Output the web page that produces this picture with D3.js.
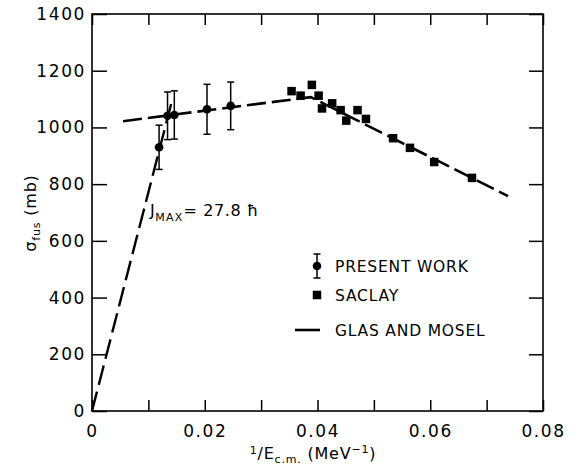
<!DOCTYPE html>
<html>
<head>
<meta charset="utf-8">
<script src="https://cdn.jsdelivr.net/npm/d3@7"></script>
<style>
  body { margin: 0; background: #fff; }
  svg text { font-family: "DejaVu Sans", sans-serif; }
</style>
</head>
<body>
<svg id="chart" width="580" height="470"></svg>
<script>
// Present work (circles with error bars)
const presentX = [0.0119, 0.0134, 0.0146, 0.0204, 0.0246];
const presentY = [930, 1041, 1044, 1064, 1076];
const presentErr = [78, 84, 85, 88, 84];

// Saclay (squares)
const saclayX = [0.0354, 0.0370, 0.0390, 0.0402, 0.0408, 0.0426, 0.0441, 0.0451, 0.0471, 0.0486, 0.0534, 0.0564, 0.0607, 0.0674];
const saclayY = [1128, 1112, 1150, 1112, 1067, 1085, 1061, 1024, 1061, 1030, 962, 928, 878, 822];

// Glas and Mosel curve
const glasX = [0.0055, 0.0388, 0.0738];
const glasY = [1022, 1107, 758];

// J_MAX = 27.8 line through origin
const jmaxX = [0, 0.0142];
const jmaxY = [0, 1095];

// Axis ticks
const xTicks = [0, 0.01, 0.02, 0.03, 0.04, 0.05, 0.06, 0.07, 0.08];
const xLabels = ["0", "", "0.02", "", "0.04", "", "0.06", "", "0.08"];
const yTicks = [0, 200, 400, 600, 800, 1000, 1200, 1400];

const legendLabels = ["PRESENT WORK", "SACLAY", "GLAS AND MOSEL"];

const svg = d3.select("#chart");
const margin = {top: 14, right: 37, bottom: 59, left: 92};
const width = 580 - margin.left - margin.right;
const height = 470 - margin.top - margin.bottom;

const x = d3.scaleLinear().domain([0, 0.08]).range([0, width]);
const y = d3.scaleLinear().domain([0, 1400]).range([height, 0]);

const g = svg.append("g").attr("transform", `translate(${margin.left},${margin.top})`);

// Frame
g.append("rect")
    .attr("width", width).attr("height", height)
    .attr("fill", "none").attr("stroke", "#000").attr("stroke-width", 1.6);

function styleAxis(sel) {
    sel.attr("font-family", null).attr("font-size", null);
    sel.select(".domain").remove();
    sel.selectAll("line").attr("stroke", "#000").attr("stroke-width", 1.5);
    sel.selectAll("text")
        .attr("fill", "#000")
        .style("font-size", "17px")
        .style("letter-spacing", "1.6px");
}

g.append("g")
    .attr("transform", `translate(0,${height})`)
    .call(d3.axisBottom(x).tickValues(xTicks).tickSizeInner(-11).tickSizeOuter(0).tickPadding(14)
        .tickFormat((d, i) => xLabels[i]))
    .call(styleAxis);

g.append("g")
    .call(d3.axisTop(x).tickValues(xTicks).tickSizeInner(-11).tickSizeOuter(0).tickFormat(""))
    .call(styleAxis);

g.append("g")
    .call(d3.axisLeft(y).tickValues(yTicks).tickSizeInner(-15).tickSizeOuter(0).tickPadding(6)
        .tickFormat(d3.format("d")))
    .call(styleAxis);

g.append("g")
    .attr("transform", `translate(${width},0)`)
    .call(d3.axisRight(y).tickValues(yTicks).tickSizeInner(-14).tickSizeOuter(0).tickFormat(""))
    .call(styleAxis);

// Lines
const line = d3.line().x(d => x(d[0])).y(d => y(d[1]));

g.append("path")
    .datum(glasX.map((v, i) => [v, glasY[i]]))
    .attr("d", line)
    .attr("fill", "none").attr("stroke", "#000").attr("stroke-width", 2.6)
    .attr("stroke-dasharray", "19,6");

g.append("path")
    .datum(jmaxX.map((v, i) => [v, jmaxY[i]]))
    .attr("d", line)
    .attr("fill", "none").attr("stroke", "#000").attr("stroke-width", 2.4)
    .attr("stroke-dasharray", "20,7");

// Saclay squares
const sq = 8.5;
g.selectAll(".saclay")
    .data(saclayX.map((v, i) => [v, saclayY[i]]))
    .enter().append("rect")
    .attr("x", d => x(d[0]) - sq / 2)
    .attr("y", d => y(d[1]) - sq / 2)
    .attr("width", sq).attr("height", sq)
    .attr("fill", "#000");

// Present work with error bars
const present = presentX.map((v, i) => ({x: v, y: presentY[i], e: presentErr[i]}));
const pw = g.selectAll(".present").data(present).enter().append("g");
pw.append("line")
    .attr("x1", d => x(d.x)).attr("x2", d => x(d.x))
    .attr("y1", d => y(d.y - d.e)).attr("y2", d => y(d.y + d.e))
    .attr("stroke", "#000").attr("stroke-width", 1.5);
pw.append("line")
    .attr("x1", d => x(d.x) - 3.5).attr("x2", d => x(d.x) + 3.5)
    .attr("y1", d => y(d.y - d.e)).attr("y2", d => y(d.y - d.e))
    .attr("stroke", "#000").attr("stroke-width", 1.5);
pw.append("line")
    .attr("x1", d => x(d.x) - 3.5).attr("x2", d => x(d.x) + 3.5)
    .attr("y1", d => y(d.y + d.e)).attr("y2", d => y(d.y + d.e))
    .attr("stroke", "#000").attr("stroke-width", 1.5);
pw.append("circle")
    .attr("cx", d => x(d.x)).attr("cy", d => y(d.y))
    .attr("r", 4.3).attr("fill", "#000");

// J_MAX annotation
const jm = g.append("text")
    .attr("x", 58).attr("y", 202)
    .style("font-size", "16px").style("letter-spacing", "0.6px");
jm.append("tspan").text("J");
jm.append("tspan").style("font-size", "11px").attr("dy", 5).style("letter-spacing", "1.2px").text("MAX");
jm.append("tspan").attr("dy", -5).text("= 27.8 ħ");

// Legend
const legX = 225, legTextX = 243;
const legY = [252, 281, 316];
const leg = g.append("g");
leg.append("line").attr("x1", legX).attr("x2", legX).attr("y1", legY[0] - 12).attr("y2", legY[0] + 12)
    .attr("stroke", "#000").attr("stroke-width", 1.5);
leg.append("line").attr("x1", legX - 3.5).attr("x2", legX + 3.5).attr("y1", legY[0] - 12).attr("y2", legY[0] - 12)
    .attr("stroke", "#000").attr("stroke-width", 1.5);
leg.append("line").attr("x1", legX - 3.5).attr("x2", legX + 3.5).attr("y1", legY[0] + 12).attr("y2", legY[0] + 12)
    .attr("stroke", "#000").attr("stroke-width", 1.5);
leg.append("circle").attr("cx", legX).attr("cy", legY[0]).attr("r", 4.3).attr("fill", "#000");
leg.append("rect").attr("x", legX - sq / 2).attr("y", legY[1] - sq / 2).attr("width", sq).attr("height", sq).attr("fill", "#000");
leg.append("line").attr("x1", legX - 22).attr("x2", legX + 3).attr("y1", legY[2]).attr("y2", legY[2])
    .attr("stroke", "#000").attr("stroke-width", 2.6);
leg.selectAll("text").data(legendLabels).enter().append("text")
    .attr("x", legTextX).attr("y", (d, i) => legY[i] + 6)
    .style("font-size", "15.5px").style("letter-spacing", "0.8px")
    .text(d => d);

// X axis title
const xt = svg.append("text")
    .attr("x", 313).attr("y", 459).attr("text-anchor", "middle")
    .style("font-size", "16px").style("letter-spacing", "0.8px");
xt.append("tspan").style("font-size", "11px").attr("dy", -5).text("1");
xt.append("tspan").attr("dy", 5).text("/E");
xt.append("tspan").style("font-size", "11px").attr("dy", 4).text("c.m.");
xt.append("tspan").attr("dy", -4).text(" (MeV");
xt.append("tspan").style("font-size", "11px").attr("dy", -6).text("−1");
xt.append("tspan").attr("dy", 6).text(")");

// Y axis title
const yt = svg.append("text")
    .attr("transform", "translate(36,213) rotate(-90)")
    .attr("text-anchor", "middle")
    .style("font-size", "16px").style("letter-spacing", "0.8px");
yt.append("tspan").text("σ");
yt.append("tspan").style("font-size", "11px").attr("dy", 4).text("fus");
yt.append("tspan").attr("dy", -4).text(" (mb)");
</script>
</body>
</html>
